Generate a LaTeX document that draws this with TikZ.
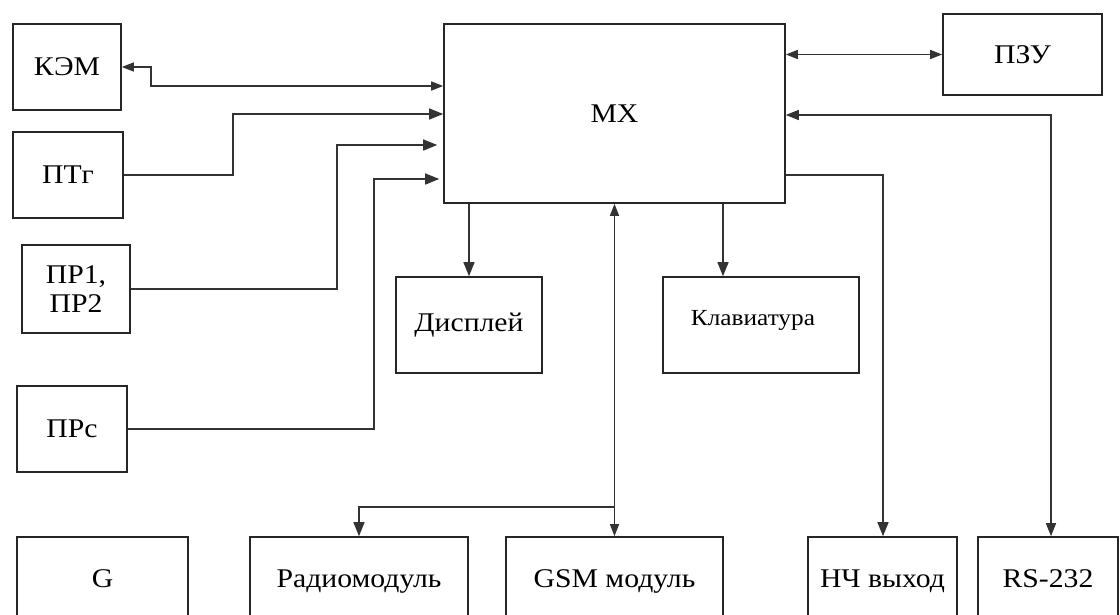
\documentclass[tikz,border=0pt]{standalone}
\usepackage{fontspec}
\setmainfont{Liberation Serif}[FakeStretch=1.1]
\usetikzlibrary{arrows.meta}
\begin{document}
\begin{tikzpicture}[x=1pt,y=-1pt,
  blk/.style={draw=black!85, line width=1.6pt, inner sep=0pt, align=center,
    font=\fontsize{27}{29}\selectfont},
  bot/.style={blk, minimum height=82pt, text height=22pt, text depth=4pt},
  conn/.style={draw=black!80, line width=1.4pt},
  tip/.style={-{Triangle[length=14pt,width=11pt]}},
  tips/.style={{Triangle[length=13pt,width=10pt]}-{Triangle[length=13pt,width=10pt]}},
  stips/.style={{Triangle[length=12pt,width=9pt]}-{Triangle[length=12pt,width=9pt]}}]
\useasboundingbox (0,0) rectangle (1120,614);
\clip (0,0) rectangle (1120,614);
\fill[white] (0,0) rectangle (1120,614);
% left column
\node[blk, minimum width=108pt, minimum height=86pt] (kem) at (67,67) {КЭМ};
\node[blk, minimum width=110pt, minimum height=86pt] (ptg) at (68,175) {ПТг};
\node[blk, minimum width=108pt, minimum height=88pt] (pr12) at (76,289) {ПР1,\\ПР2};
\node[blk, minimum width=110pt, minimum height=86pt] (prs) at (72,429) {ПРс};
% central
\node[blk, minimum width=341pt, minimum height=179pt] (mx) at (614.5,113.5) {MX};
\node[blk, minimum width=159pt, minimum height=81pt] (pzu) at (1022.5,54.5) {ПЗУ};
\node[blk, minimum width=146pt, minimum height=96pt] (disp) at (469,325) {Дисплей};
\node[blk, minimum width=196pt, minimum height=96pt, text height=11pt, text depth=11pt,
  font=\fontsize{23}{25}\selectfont] (klav) at (761,325) {\hspace*{-16pt}Клавиатура};
% bottom row
\node[bot, minimum width=171pt] (g) at (102.5,578) {G};
\node[bot, minimum width=218pt] (radio) at (359,578) {Радиомодуль};
\node[bot, minimum width=217pt] (gsm) at (614.5,578) {GSM модуль};
\node[bot, minimum width=149pt] (nch) at (882.5,578) {НЧ выход};
\node[bot, minimum width=140pt] (rs) at (1048,578) {RS-232};
% bend points
\coordinate (k1) at (151,86);
\coordinate (p1) at (233,114);
\coordinate (p2) at (337,145);
\coordinate (p3) at (374,179);
\coordinate (r1) at (1051,115);
\coordinate (n1) at (883,175);
\coordinate (c1) at (723,0);
\coordinate (b1) at (615,507);
% connectors
\draw[conn,stips] (kem.east) -| (k1) -- (k1 -| mx.west);
\draw[conn,tip] (ptg.east) -| (p1) -- (p1 -| mx.west);
\draw[conn,tip,shorten >=6pt] (pr12.east) -| (p2) -- (p2 -| mx.west);
\draw[conn,tip,shorten >=4pt] (prs.east) -| (p3) -- (p3 -| mx.west);
\draw[conn,stips] (mx.east |- pzu.west) -- (pzu.west);
\draw[conn,tips] (r1 -| mx.east) -- (r1) -- (r1 |- rs.north);
\draw[conn,tip] (n1 -| mx.east) -- (n1) -- (n1 |- nch.north);
\draw[conn,tip] (disp.north |- mx.south) -- (disp.north);
\draw[conn,tip] (c1 |- mx.south) -- (c1 |- klav.north);
\draw[conn,stips] (gsm.north |- mx.south) -- (gsm.north);
\draw[conn,tip] (b1) -| (radio.north);
\end{tikzpicture}
\end{document}
